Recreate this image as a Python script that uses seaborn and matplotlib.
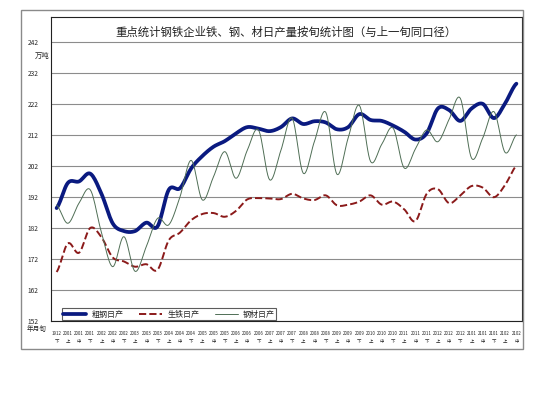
import numpy as np
import pandas as pd
import matplotlib
matplotlib.use('Agg')
import matplotlib.pyplot as plt
import seaborn as sns
from matplotlib.patches import Rectangle

# 旬 labels (year-month code + 上/中/下)
periods = ['1912', '2001', '2001', '2001', '2002', '2002', '2002', '2003', '2003', '2003',
           '2004', '2004', '2004', '2005', '2005', '2005', '2006', '2006', '2006', '2007',
           '2007', '2007', '2008', '2008', '2008', '2009', '2009', '2009', '2010', '2010',
           '2010', '2011', '2011', '2011', '2012', '2012', '2012', '2101', '2101', '2101',
           '2102', '2102']
xun = ['下', '上', '中', '下', '上', '中', '下', '上', '中', '下',
       '上', '中', '下', '上', '中', '下', '上', '中', '下', '上',
       '中', '下', '上', '中', '下', '上', '中', '下', '上', '中',
       '下', '上', '中', '下', '上', '中', '下', '上', '中', '下',
       '上', '中']

crude_steel = [188.4, 196.5, 197.0, 199.5, 193.0, 183.5, 181.0, 181.0, 183.7, 182.5,
               194.3, 194.8, 201.2, 205.2, 208.2, 210.0, 212.5, 214.5, 214.0, 213.2,
               214.5, 217.3, 215.5, 216.4, 216.0, 213.8, 214.5, 218.7, 216.8, 216.5,
               215.0, 213.0, 210.5, 212.5, 220.5, 220.0, 216.5, 220.5, 222.0, 217.4,
               222.2, 228.5]
pig_iron = [167.8, 177.0, 174.0, 182.0, 179.0, 172.5, 171.2, 169.5, 170.3, 168.5,
            178.0, 180.5, 184.5, 186.5, 186.8, 185.6, 187.5, 191.2, 191.6, 191.5,
            191.3, 193.0, 191.5, 191.0, 192.5, 189.3, 189.5, 190.5, 192.5, 189.5,
            190.5, 188.0, 184.2, 193.0, 194.5, 190.0, 192.5, 195.5, 195.0, 191.9,
            195.9, 202.0]
steel_products = [189.4, 183.5, 190.0, 194.3, 180.5, 169.5, 179.2, 168.0, 176.0, 185.1,
                  183.0, 192.0, 203.8, 191.0, 198.6, 206.6, 198.0, 207.0, 213.6, 197.5,
                  207.0, 217.4, 199.6, 210.0, 219.3, 199.3, 211.0, 221.5, 203.4, 209.0,
                  214.2, 201.3, 207.5, 213.6, 209.8, 217.0, 223.8, 204.5, 211.0, 219.5,
                  206.3, 212.0]


def smooth(values, steps=12):
    # Excel-style smoothed line (Catmull-Rom) for drawing only
    y = np.asarray(values, dtype=float)
    p = np.concatenate([[y[0]], y, [y[-1]]])
    t = np.linspace(0, 1, steps, endpoint=False)
    xs, ys = [], []
    for i in range(len(y) - 1):
        p0, p1, p2, p3 = p[i], p[i + 1], p[i + 2], p[i + 3]
        seg = 0.5 * (2 * p1 + (-p0 + p2) * t + (2 * p0 - 5 * p1 + 4 * p2 - p3) * t ** 2
                     + (-p0 + 3 * p1 - 3 * p2 + p3) * t ** 3)
        xs.append(i + t)
        ys.append(seg)
    xs.append([len(y) - 1])
    ys.append([y[-1]])
    return np.concatenate(xs), np.concatenate(ys)


sns.set_style('white')
plt.rcParams['font.family'] = ['Noto Sans CJK SC', 'DejaVu Sans']

fig = plt.figure(figsize=(5.43, 4.08), dpi=100)
ax = fig.add_axes([51 / 543, 1 - 321 / 408, 471 / 543, 304 / 408])

series = [('粗钢日产', crude_steel, '#0a1a80', '-', 2.7),
          ('生铁日产', pig_iron, '#8b1a1a', '--', 1.4),
          ('钢材日产', steel_products, '#4f6e55', '-', 0.7)]
for name, vals, color, ls, lw in series:
    sx, sy = smooth(vals)
    df = pd.DataFrame({'x': sx, 'y': sy})
    sns.lineplot(data=df, x='x', y='y', ax=ax, color=color, linestyle=ls, lw=lw,
                 label=name, sort=False, estimator=None)

ax.set_xlim(-0.5, len(periods) - 0.5)
ax.set_ylim(152, 250)
ax.set_yticks(np.arange(152, 243, 10))
ax.tick_params(axis='y', length=0, labelsize=4.8, pad=9)
ax.set_xticks(range(len(periods)))
ax.set_xticklabels([f'{p}\n{x}' for p, x in zip(periods, xun)], fontsize=3.2,
                   linespacing=1.9)
ax.set_xticks(np.arange(-0.5, len(periods), 1), minor=True)
ax.tick_params(axis='x', which='major', length=0, pad=7)
ax.tick_params(axis='x', which='minor', length=3, width=0.5, direction='out')
ax.yaxis.grid(True, color='#8c8c8c', lw=0.8)
ax.set_axisbelow(True)
ax.set_xlabel('')
ax.set_ylabel('')
for s in ax.spines.values():
    s.set_color('#222222')
    s.set_linewidth(0.8)

ax.text(0.5, 0.951, '重点统计钢铁企业铁、钢、材日产量按旬统计图（与上一旬同口径）',
        transform=ax.transAxes, ha='center', va='center', fontsize=8.2, color='#222222')

leg = ax.legend(loc='lower left', bbox_to_anchor=(0.023, 0.004, 0.455, 0.04),
                mode='expand', ncol=3, fontsize=5.8, frameon=True, fancybox=False,
                handlelength=2.9, handletextpad=0.6, columnspacing=0.9,
                borderpad=0.15, borderaxespad=0)
leg.get_frame().set_edgecolor('#333333')
leg.get_frame().set_linewidth(0.8)

fig.text(50 / 543, 1 - 56 / 408, '万吨', ha='right', va='center', fontsize=5.3)
fig.text(27 / 543, 1 - 329 / 408, '年月旬', ha='left', va='center', fontsize=4.8)
fig.patches.append(Rectangle((21 / 543, 1 - 349 / 408), 502 / 543, 339 / 408,
                             transform=fig.transFigure, fill=False,
                             edgecolor='#8a8a8a', lw=1.0))

fig.savefig('out.png', dpi=100, facecolor='white')
